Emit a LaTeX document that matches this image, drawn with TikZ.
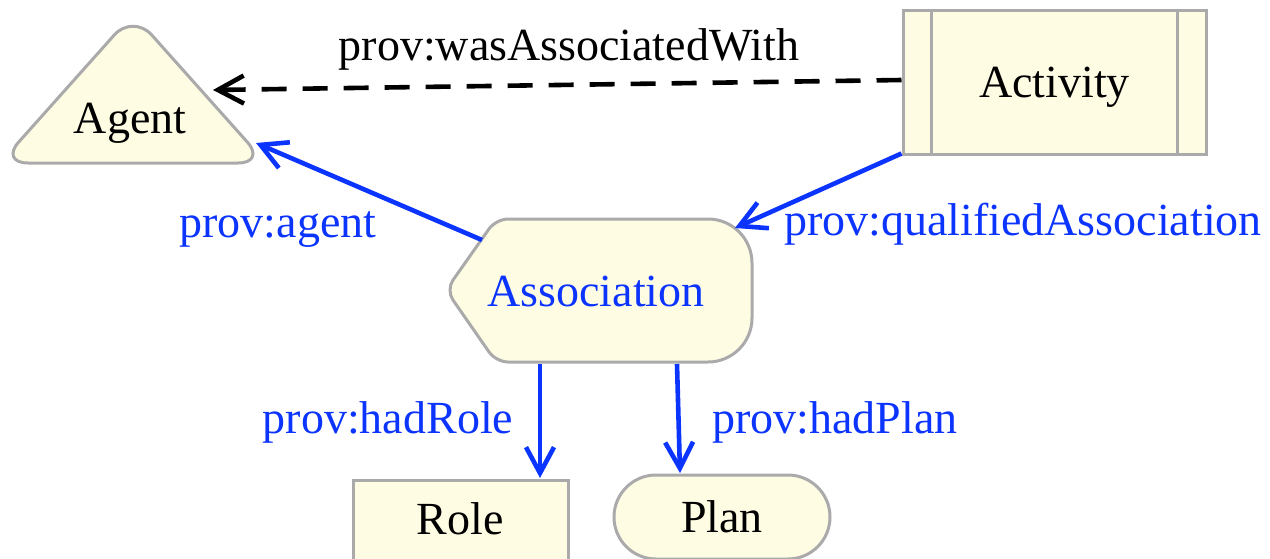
\documentclass[tikz,border=0pt]{standalone}
\usepackage{fontspec}
\setmainfont{Liberation Serif}
\usetikzlibrary{arrows.meta}

\definecolor{provfill}{RGB}{255,252,228}
\definecolor{provline}{RGB}{170,170,170}
\definecolor{provblue}{RGB}{12,52,255}

\begin{document}
\begin{tikzpicture}[x=0.5pt, y=-0.5pt,
        txt/.style={font=\fontsize{23}{27}\selectfont, anchor=base, inner sep=0pt},
        shp/.style={fill=provfill, draw=provline, line width=1.5pt},
        boxtxt/.style={shp, font=\fontsize{23}{27}\selectfont, text height=15pt, text depth=0pt, inner sep=0pt},
        rel/.style={line width=2.3pt, -{Straight Barb[length=13pt, width=14pt, line width=2.3pt]}}]
        \useasboundingbox (0,0) rectangle (1270,558);

        % shapes
        \draw[shp, rounded corners=14pt] (0,163) -- (133,14) -- (266,163) -- cycle;
        \node[txt] (agent) at (130,133) {Agent};

        \node[boxtxt, minimum width=151.5pt, minimum height=72pt] (act) at (1054.5,82) {Activity};
        \draw[provline, line width=1.5pt] ([xshift=15pt]act.north west) -- ([xshift=15pt]act.south west);
        \draw[provline, line width=1.5pt] ([xshift=-15pt]act.north east) -- ([xshift=-15pt]act.south east);

        \draw[shp] (446,290) [rounded corners=6pt] -- (496,219) [rounded corners=22pt] -- (752,219) -- (752,362) [rounded corners=6pt] -- (496,362) -- cycle;
        \node[txt, provblue] (assoc) at (596,306) {Association};

        \draw[shp] (353,480) rectangle (568,580);
        \node[txt] (role) at (460,534) {Role};

        \node[boxtxt, minimum width=108pt, minimum height=42pt, rounded corners=21pt] (plan) at (722,517) {Plan};

        % connector ends
        \coordinate (agentR) at (213,90);
        \coordinate (agentB) at (256,143);
        \coordinate (assocTL) at (482,240);
        \coordinate (assocTR) at (735,228);
        \coordinate (assocB1) at (540,364);
        \coordinate (assocB2) at (677,364);
        \coordinate (roleT) at (540,478);
        \coordinate (planT) at (680,473);

        % relations
        \draw[rel, dash pattern=on 12.5pt off 8pt] ([yshift=1pt]act.west) -- (agentR);
        \node[txt] (wasassoc) at (569,60) {prov:wasAssociatedWith};

        \draw[rel, provblue] (assocTL) -- (agentB);
        \node[txt, provblue] (agentlbl) at (278,237) {prov:agent};

        \draw[rel, provblue] ([yshift=1pt]act.south west) -- (assocTR);
        \node[txt, provblue] (qualified) at (1023,235) {prov:qualifiedAssociation};

        \draw[rel, provblue] (assocB1) -- (roleT);
        \node[txt, provblue] (hadrole) at (388,433) {prov:hadRole};

        \draw[rel, provblue] (assocB2) -- (planT);
        \node[txt, provblue] (hadplan) at (835,433) {prov:hadPlan};
\end{tikzpicture}
\end{document}
